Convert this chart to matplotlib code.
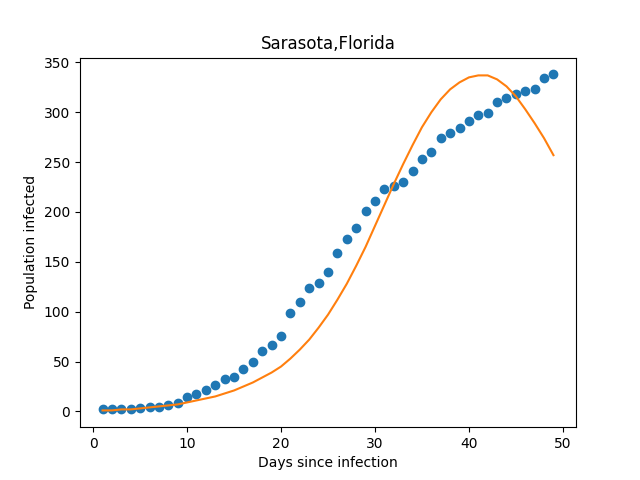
import matplotlib
matplotlib.use("Agg")
import matplotlib.pyplot as plt

days = list(range(1, 50))
infected = [2, 2, 2, 2, 3, 4, 4, 6, 8, 14, 17, 21, 26, 32, 34, 43, 50, 61, 67, 76,
            99, 110, 124, 129, 140, 159, 173, 184, 201, 211, 223, 226, 230, 241, 253,
            260, 274, 279, 284, 291, 297, 299, 310, 314, 318, 321, 323, 334, 338]
fitted = [1, 1, 2, 2, 3, 4, 5, 6, 7, 9, 11, 13, 15, 18, 21, 25, 29, 34, 39, 45,
          53, 62, 72, 84, 97, 112, 128, 146, 165, 186, 207, 228, 248, 267, 285,
          300, 313, 323, 330, 335, 337, 337, 333, 326, 316, 303, 289, 274, 257]

fig = plt.figure(figsize=(6.4, 4.8), dpi=100)
plt.scatter(days, infected)
plt.plot(days, fitted, color='tab:orange')
plt.title('Sarasota,Florida')
plt.xlabel('Days since infection')
plt.ylabel('Population infected')
plt.savefig('out.png')
